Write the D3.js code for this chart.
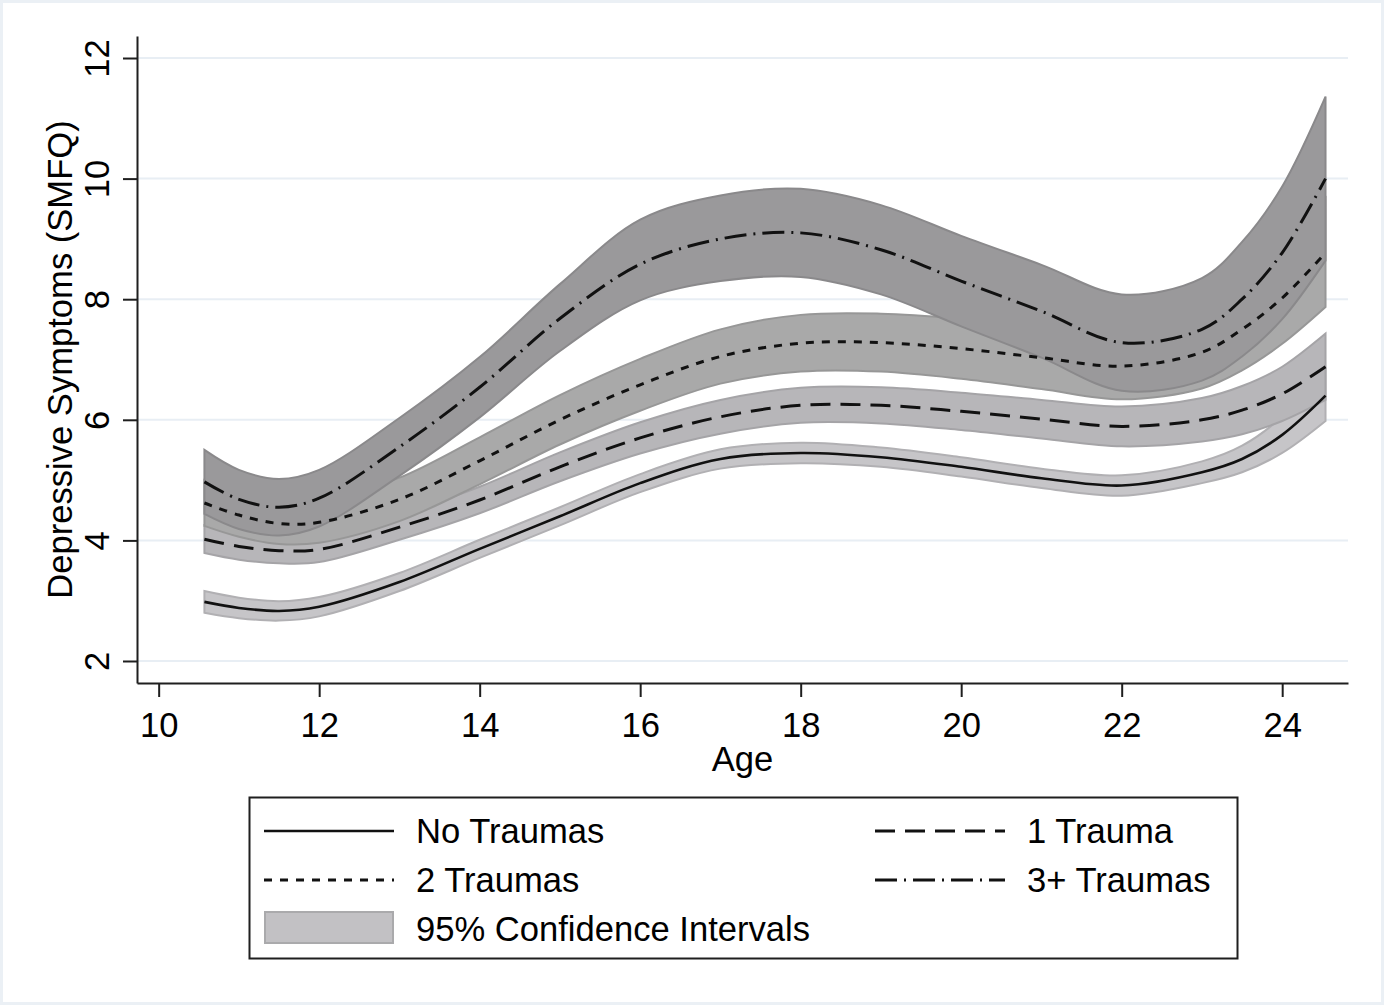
<!DOCTYPE html>
<html>
<head>
<meta charset="utf-8">
<script src="https://cdn.jsdelivr.net/npm/d3@7"></script>
<style>
  body { margin: 0; background: #fff; }
  svg { display: block; font-family: "Liberation Sans", Arial, sans-serif; }
</style>
</head>
<body>
<div id="chart"></div>
<script>
const ages = [10.57, 11, 11.5, 12, 13, 14, 15, 16, 17, 18, 19, 20, 21, 22, 23, 23.5, 24, 24.54]

// predicted SMFQ per group
const noTraumas    = [2.98, 2.88, 2.83, 2.90, 3.31, 3.86, 4.40, 4.95, 5.35, 5.45, 5.38, 5.22, 5.03, 4.91, 5.13, 5.35, 5.75, 6.40]
const oneTrauma    = [4.02, 3.90, 3.83, 3.85, 4.22, 4.67, 5.22, 5.70, 6.05, 6.24, 6.24, 6.14, 6.01, 5.89, 6.00, 6.16, 6.43, 6.88]
const twoTraumas   = [4.62, 4.42, 4.28, 4.30, 4.68, 5.32, 6.00, 6.58, 7.05, 7.27, 7.28, 7.18, 7.03, 6.89, 7.12, 7.50, 8.02, 8.77]
const threeTraumas = [4.97, 4.68, 4.55, 4.70, 5.55, 6.54, 7.68, 8.58, 9.00, 9.10, 8.82, 8.30, 7.80, 7.28, 7.50, 8.00, 8.77, 10.00]

// 95% CI bounds
const noTraumasLo    = [2.80, 2.71, 2.67, 2.74, 3.16, 3.71, 4.25, 4.80, 5.19, 5.28, 5.22, 5.06, 4.87, 4.74, 4.95, 5.13, 5.45, 5.98]
const noTraumasHi    = [3.16, 3.05, 2.99, 3.06, 3.46, 4.01, 4.55, 5.10, 5.51, 5.62, 5.54, 5.38, 5.19, 5.08, 5.31, 5.57, 6.05, 6.82]
const oneTraumaLo    = [3.79, 3.68, 3.62, 3.64, 4.01, 4.45, 4.98, 5.44, 5.77, 5.95, 5.94, 5.83, 5.69, 5.56, 5.64, 5.76, 5.98, 6.33]
const oneTraumaHi    = [4.25, 4.12, 4.04, 4.06, 4.43, 4.89, 5.46, 5.96, 6.33, 6.53, 6.54, 6.45, 6.33, 6.22, 6.36, 6.56, 6.88, 7.43]
const twoTraumasLo   = [4.24, 4.06, 3.94, 3.96, 4.32, 4.93, 5.59, 6.15, 6.60, 6.80, 6.80, 6.68, 6.51, 6.34, 6.52, 6.82, 7.26, 7.87]
const twoTraumasHi   = [5.00, 4.78, 4.62, 4.64, 5.04, 5.71, 6.41, 7.01, 7.50, 7.74, 7.76, 7.68, 7.55, 7.44, 7.72, 8.18, 8.78, 9.67]
const threeTraumasLo = [4.44, 4.19, 4.08, 4.23, 5.07, 6.04, 7.14, 7.98, 8.30, 8.37, 8.08, 7.55, 7.03, 6.48, 6.65, 7.05, 7.67, 8.64]
const threeTraumasHi = [5.50, 5.17, 5.02, 5.17, 6.03, 7.04, 8.25, 9.32, 9.72, 9.83, 9.56, 9.05, 8.57, 8.08, 8.35, 8.95, 9.87, 11.36]

const xTicks = [10, 12, 14, 16, 18, 20, 22, 24]
const yTicks = [2, 4, 6, 8, 10, 12]

const seriesNames = ['No Traumas', '1 Trauma', '2 Traumas', '3+ Traumas']
const ciLabel = '95% Confidence Intervals'

const width = 1385, height = 1007
const fontSize = 34.6

// styles per group, same order as seriesNames
const styles = [
  { dash: null,         lw: 2.6, fill: '#c6c5c8', edge: '#b1b0b3' },
  { dash: '20 10',      lw: 3,   fill: '#b7b6b9', edge: '#a5a4a7' },
  { dash: '8 8',        lw: 3,   fill: '#a9a9a9', edge: '#979797' },
  { dash: '22 7 2 7',   lw: 3,   fill: '#9a999b', edge: '#8a898b' }
]

const groups = [
  { mean: noTraumas,    lo: noTraumasLo,    hi: noTraumasHi },
  { mean: oneTrauma,    lo: oneTraumaLo,    hi: oneTraumaHi },
  { mean: twoTraumas,   lo: twoTraumasLo,   hi: twoTraumasHi },
  { mean: threeTraumas, lo: threeTraumasLo, hi: threeTraumasHi }
].map((g, k) => ({
  name: seriesNames[k],
  style: styles[k],
  points: ages.map((a, i) => ({ age: a, v: g.mean[i], lo: g.lo[i], hi: g.hi[i] }))
}))

const svg = d3.select('#chart').append('svg')
  .attr('width', width)
  .attr('height', height)

// outer frame
svg.append('rect')
  .attr('x', 1.5).attr('y', 1.5)
  .attr('width', width - 4).attr('height', height - 5)
  .attr('fill', '#fff')
  .attr('stroke', '#ebf0f5')
  .attr('stroke-width', 3)

// scales
const x = d3.scaleLinear().domain([9.73, 24.82]).range([137, 1348])
const y = d3.scaleLinear().domain([1.635, 12.365]).range([683, 36])

// grid lines
svg.append('g')
  .selectAll('line')
  .data(yTicks)
  .enter().append('line')
  .attr('x1', x.range()[0]).attr('x2', x.range()[1])
  .attr('y1', d => y(d)).attr('y2', d => y(d))
  .attr('stroke', '#e8eef4')
  .attr('stroke-width', 2)

const curve = d3.curveCatmullRom.alpha(0.5)

const area = d3.area()
  .x(d => x(d.age))
  .y0(d => y(d.lo))
  .y1(d => y(d.hi))
  .curve(curve)

const line = d3.line()
  .x(d => x(d.age))
  .y(d => y(d.v))
  .curve(curve)

// CI bands first, then the lines on top
svg.append('g')
  .selectAll('path')
  .data(groups)
  .enter().append('path')
  .attr('d', d => area(d.points))
  .attr('fill', d => d.style.fill)
  .attr('stroke', d => d.style.edge)
  .attr('stroke-width', 2)

svg.append('g')
  .selectAll('path')
  .data(groups)
  .enter().append('path')
  .attr('d', d => line(d.points))
  .attr('fill', 'none')
  .attr('stroke', '#111')
  .attr('stroke-width', d => d.style.lw)
  .attr('stroke-dasharray', d => d.style.dash)

// axes
const axisColor = '#1f1f1f'

const yAxis = svg.append('g')
  .attr('transform', 'translate(137,0)')
  .call(d3.axisLeft(y).tickValues(yTicks).tickSize(14).tickSizeOuter(0).tickFormat(d3.format('d')))
yAxis.selectAll('text')
  .attr('transform', 'rotate(-90)')
  .attr('x', 0).attr('y', -28).attr('dy', null)
  .attr('text-anchor', 'middle')

const xAxis = svg.append('g')
  .attr('transform', 'translate(0,683)')
  .call(d3.axisBottom(x).tickValues(xTicks).tickSize(14).tickSizeOuter(0).tickFormat(d3.format('d')))
xAxis.selectAll('text')
  .attr('y', 54).attr('dy', null)

svg.selectAll('.domain, .tick line')
  .attr('stroke', axisColor)
  .attr('stroke-width', 2)
svg.selectAll('.tick text')
  .attr('fill', '#000')
  .style('font-size', fontSize + 'px')
  .style('font-family', '"Liberation Sans", Arial, sans-serif')

// axis titles
svg.append('text')
  .attr('transform', 'translate(72,' + ((36 + 683) / 2) + ') rotate(-90)')
  .attr('text-anchor', 'middle')
  .style('font-size', fontSize + 'px')
  .text('Depressive Symptoms (SMFQ)')

svg.append('text')
  .attr('x', (137 + 1348) / 2)
  .attr('y', 771)
  .attr('text-anchor', 'middle')
  .style('font-size', fontSize + 'px')
  .text('Age')

// legend
const legend = svg.append('g')
legend.append('rect')
  .attr('x', 249.5).attr('y', 797.5)
  .attr('width', 988).attr('height', 161)
  .attr('fill', '#fff')
  .attr('stroke', axisColor)
  .attr('stroke-width', 2)

const legendSlots = [
  { x: 264, yc: 831 }, { x: 875, yc: 831 },
  { x: 264, yc: 880 }, { x: 875, yc: 880 }
]
groups.forEach((g, k) => {
  const s = legendSlots[k]
  legend.append('line')
    .attr('x1', s.x).attr('x2', s.x + 130)
    .attr('y1', s.yc).attr('y2', s.yc)
    .attr('stroke', '#111')
    .attr('stroke-width', g.style.lw)
    .attr('stroke-dasharray', g.style.dash)
  legend.append('text')
    .attr('x', s.x + 152)
    .attr('y', s.yc + 12)
    .style('font-size', fontSize + 'px')
    .text(g.name)
})

legend.append('rect')
  .attr('x', 265).attr('y', 912)
  .attr('width', 128).attr('height', 31)
  .attr('fill', '#c2c1c4')
  .attr('stroke', '#aaaaac')
  .attr('stroke-width', 2)
legend.append('text')
  .attr('x', 416)
  .attr('y', 941)
  .style('font-size', fontSize + 'px')
  .text(ciLabel)
</script>
</body>
</html>
